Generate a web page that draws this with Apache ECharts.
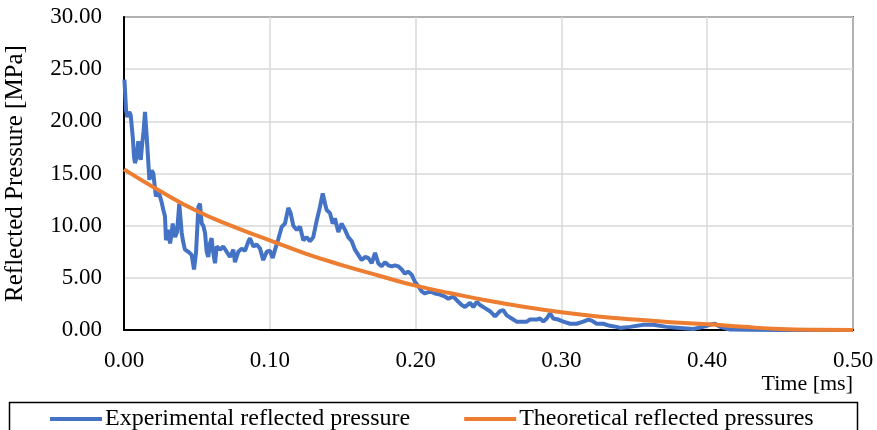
<!DOCTYPE html>
<html>
<head>
<meta charset="utf-8">
<script src="https://cdn.jsdelivr.net/npm/echarts@6/dist/echarts.min.js"></script>
<style>
html,body{margin:0;padding:0;background:#fff;}
#chart{width:877px;height:430px;}
</style>
</head>
<body>
<div id="chart"></div>
<script>
// ---- data ----
const xTicks = [0.0, 0.1, 0.2, 0.3, 0.4, 0.5];
const yTicks = [0, 5, 10, 15, 20, 25, 30];

const expTime = [0.0003,0.0014,0.0023,0.0036,0.0046,0.0060,0.0069,0.0075,0.0086,0.0098,0.0115,0.0123,0.0134,0.0144,0.0156,0.0174,0.0190,0.0201,0.0219,0.0235,0.0259,0.0270,0.0281,0.0288,0.0304,0.0316,0.0327,0.0334,0.0350,0.0364,0.0379,0.0396,0.0405,0.0418,0.0441,0.0464,0.0480,0.0494,0.0510,0.0521,0.0533,0.0544,0.0556,0.0567,0.0578,0.0590,0.0601,0.0610,0.0624,0.0636,0.0658,0.0681,0.0704,0.0727,0.0750,0.0761,0.0784,0.0807,0.0830,0.0853,0.0864,0.0887,0.0910,0.0933,0.0955,0.0979,0.1001,0.1020,0.1036,0.1058,0.1082,0.1104,0.1127,0.1143,0.1161,0.1185,0.1207,0.1230,0.1253,0.1276,0.1298,0.1322,0.1344,0.1363,0.1379,0.1390,0.1413,0.1431,0.1447,0.1470,0.1493,0.1516,0.1538,0.1562,0.1584,0.1607,0.1630,0.1653,0.1676,0.1699,0.1722,0.1744,0.1767,0.1790,0.1813,0.1836,0.1859,0.1881,0.1905,0.1927,0.1948,0.1973,0.1996,0.2019,0.2042,0.2064,0.2099,0.2133,0.2167,0.2202,0.2224,0.2259,0.2293,0.2316,0.2339,0.2373,0.2396,0.2419,0.2442,0.2476,0.2510,0.2545,0.2579,0.2601,0.2625,0.2659,0.2693,0.2728,0.2762,0.2785,0.2831,0.2853,0.2876,0.2899,0.2922,0.2944,0.2979,0.3013,0.3059,0.3105,0.3150,0.3185,0.3208,0.3242,0.3287,0.3333,0.3379,0.3402,0.3471,0.3562,0.3630,0.3722,0.3813,0.3905,0.3973,0.4019,0.4053,0.4088,0.4156,0.4294,0.4499,0.5000];
const expPressure = [24.0,21.1,20.4,20.9,20.6,18.5,16.6,16.0,16.5,18.1,16.3,17.6,19.0,20.9,18.5,14.4,15.3,15.0,12.8,13.4,12.2,11.5,10.9,8.6,9.6,8.3,9.3,10.2,8.9,9.4,12.1,9.3,8.5,7.7,7.5,7.2,5.8,7.4,11.8,12.1,10.2,10.0,9.3,7.5,7.0,8.3,8.8,7.6,6.4,8.0,7.7,8.0,7.5,7.0,7.7,6.5,7.5,7.8,7.6,8.5,8.8,8.0,8.2,7.8,6.7,7.5,7.6,6.9,7.7,8.7,9.9,10.2,11.7,11.2,10.0,9.6,9.9,8.6,8.9,8.5,8.9,10.5,11.8,13.1,12.1,11.5,11.2,10.2,10.7,9.4,10.2,9.6,8.9,8.5,7.7,7.2,6.7,7.0,6.9,6.4,7.4,6.4,6.1,6.5,6.2,6.1,6.2,6.1,5.8,5.4,5.6,5.3,4.6,4.2,3.7,3.5,3.7,3.5,3.4,3.2,3.0,3.2,2.7,2.4,2.2,2.6,2.2,2.7,2.4,2.1,1.8,1.3,1.8,1.9,1.4,1.1,0.8,0.8,0.8,1.0,1.0,1.1,0.8,1.1,1.6,1.1,1.0,0.8,0.6,0.6,0.8,1.0,0.9,0.6,0.6,0.4,0.3,0.2,0.3,0.5,0.5,0.3,0.2,0.1,0.3,0.5,0.6,0.3,0.05,0.02,0.0,0.0];

const theoTime = [0,0.025,0.05,0.075,0.1,0.125,0.15,0.175,0.2,0.225,0.25,0.275,0.3,0.325,0.35,0.375,0.4,0.425,0.45,0.475,0.5];
const theoPressure = [15.4,13.3,11.4,9.9,8.6,7.3,6.2,5.2,4.25,3.5,2.8,2.2,1.7,1.3,1.0,0.75,0.55,0.3,0.1,0.02,0.0];

const seriesNames = ['Experimental reflected pressure', 'Theoretical reflected pressures'];
const xAxisTitle = 'Time [ms]';
const yAxisTitle = 'Reflected Pressure [MPa]';

const FONT = '"Liberation Serif", "Times New Roman", serif';
const expData = expTime.map((t, i) => [t, expPressure[i]]);
const theoData = theoTime.map((t, i) => [t, theoPressure[i]]);

const chart = echarts.init(document.getElementById('chart'), null, {renderer: 'canvas'});
chart.setOption({
  animation: false,
  backgroundColor: '#fff',
  textStyle: {fontFamily: FONT},
  grid: {left: 124, right: 24, top: 17, bottom: 100, show: true, borderColor: '#000', borderWidth: 1.5,
         containLabel: false, outerBoundsMode: 'none'},
  xAxis: {
    type: 'value', min: xTicks[0], max: xTicks[xTicks.length-1], interval: 0.1,
    axisLine: {show: true, lineStyle: {color: '#000', width: 2}},
    axisTick: {show: false},
    axisLabel: {color: '#000', fontFamily: FONT, fontSize: 23, margin: 19, formatter: v => v.toFixed(2)},
    splitLine: {show: true, lineStyle: {color: '#d9d9d9', width: 1.5}},
    name: xAxisTitle, nameLocation: 'end', nameGap: 0,
    nameTextStyle: {color: '#000', fontFamily: FONT, fontSize: 22, align: 'right', verticalAlign: 'top', padding: [43, 0, 0, 0]}
  },
  yAxis: {
    type: 'value', min: yTicks[0], max: yTicks[yTicks.length-1], interval: 5,
    axisLine: {show: true, lineStyle: {color: '#000', width: 2}},
    axisTick: {show: false},
    axisLabel: {color: '#000', fontFamily: FONT, fontSize: 23, margin: 22, formatter: v => v.toFixed(2)},
    splitLine: {show: true, lineStyle: {color: '#d9d9d9', width: 1.5}},
    name: yAxisTitle, nameLocation: 'middle', nameGap: 96, nameRotate: 90,
    nameTextStyle: {color: '#000', fontFamily: FONT, fontSize: 25}
  },
  legend: {
    left: 45, top: 402, itemWidth: 52, itemHeight: 4, itemGap: 54,
    icon: 'rect',
    textStyle: {color: '#000', fontFamily: FONT, fontSize: 24, padding: [0,0,0,-2]},
    data: seriesNames
  },
  graphic: [{
    type: 'rect', left: 7, top: 400, silent: true,
    shape: {width: 848, height: 40},
    style: {fill: 'none', stroke: '#000', lineWidth: 1.5}
  }],
  series: [
    {name: seriesNames[0], type: 'line', data: expData, showSymbol: false, symbol: 'none',
     lineStyle: {color: '#4472C4', width: 4}, itemStyle: {color: '#4472C4'}, z: 2},
    {name: seriesNames[1], type: 'line', data: theoData, showSymbol: false, symbol: 'none', smooth: true,
     lineStyle: {color: '#ED7D31', width: 4}, itemStyle: {color: '#ED7D31'}, z: 3}
  ]
});
</script>
</body>
</html>
